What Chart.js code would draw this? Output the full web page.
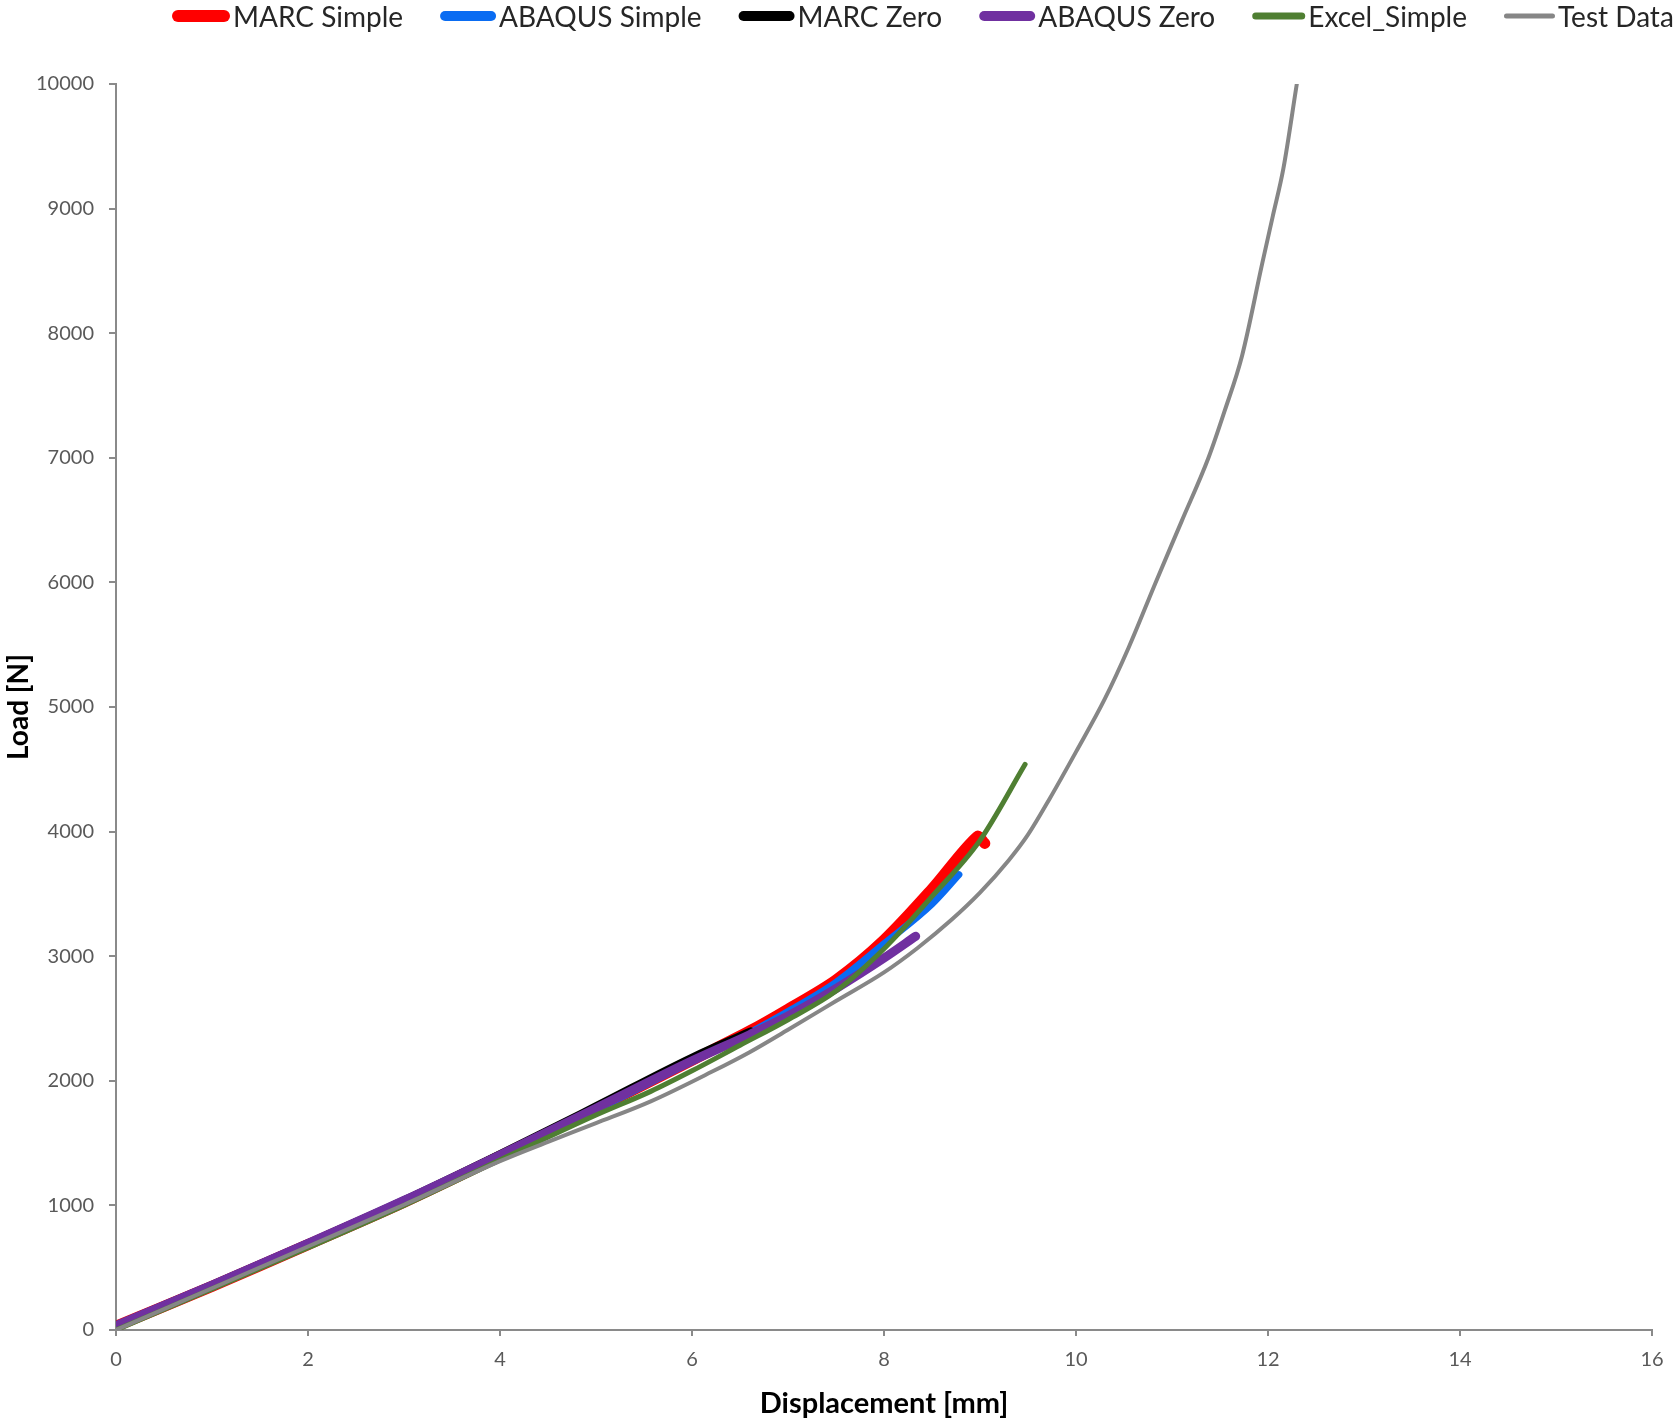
<!DOCTYPE html>
<html>
<head>
<meta charset="utf-8">
<script src="https://cdn.jsdelivr.net/npm/chart.js@4/dist/chart.umd.min.js"></script>
<style>
html,body{margin:0;padding:0;background:#fff;}
#wrap{width:1680px;height:1424px;position:relative;}
</style>
</head>
<body>
<div id="wrap"><canvas id="c" width="1680" height="1424"></canvas></div>
<script>
// ---- data (displacement [mm], load [N]) ----
const seriesNames = ['MARC Simple', 'ABAQUS Simple', 'MARC Zero', 'ABAQUS Zero', 'Excel_Simple', 'Test Data'];

const marcSimpleX = [0, 1, 2, 3, 4, 5, 6, 6.6, 7, 7.5, 8, 8.5, 8.97, 9.05];
const marcSimpleY = [30, 350, 685, 1025, 1395, 1775, 2165, 2400, 2575, 2810, 3130, 3540, 3960, 3905];

const abaqusSimpleX = [0, 1, 2, 3, 4, 5, 6, 6.6, 7, 7.5, 8, 8.5, 8.78];
const abaqusSimpleY = [20, 340, 675, 1015, 1385, 1765, 2155, 2385, 2555, 2790, 3100, 3420, 3655];

const marcZeroX = [0, 1, 2, 3, 4, 5, 6, 6.61];
const marcZeroY = [40, 365, 700, 1045, 1415, 1800, 2190, 2400];

const abaqusZeroX = [0, 1, 2, 3, 4, 5, 6, 6.6, 7, 7.5, 8, 8.33];
const abaqusZeroY = [35, 360, 695, 1040, 1405, 1780, 2160, 2370, 2520, 2740, 2985, 3160];

const excelSimpleX = [0, 1, 2, 3, 4, 5, 5.57, 6, 6.5, 7, 7.5, 8, 8.5, 9, 9.47];
const excelSimpleY = [0, 330, 660, 1000, 1365, 1725, 1915, 2080, 2285, 2490, 2720, 3060, 3480, 3930, 4540];

const testDataX = [0, 1, 2, 3, 4, 4.5, 5, 5.57, 6.2, 6.6, 7.0, 7.5, 8.0, 8.35, 8.7, 9.0, 9.3, 9.5, 9.73, 10.0, 10.3, 10.55, 10.83, 11.1, 11.38, 11.55, 11.73, 11.94, 12.05, 12.16, 12.3];
const testDataY = [0, 335, 670, 1005, 1355, 1510, 1660, 1835, 2070, 2230, 2410, 2640, 2870, 3066, 3290, 3510, 3770, 3975, 4270, 4640, 5065, 5480, 6000, 6490, 7000, 7380, 7820, 8560, 8940, 9320, 10000];

const xTicks = [0, 2, 4, 6, 8, 10, 12, 14, 16];
const yTicks = [0, 1000, 2000, 3000, 4000, 5000, 6000, 7000, 8000, 9000, 10000];

// ---- helpers ----
function pts(xs, ys) { return xs.map((x, i) => ({x: x, y: ys[i]})); }

const seriesData = [
  pts(marcSimpleX, marcSimpleY),
  pts(abaqusSimpleX, abaqusSimpleY),
  pts(marcZeroX, marcZeroY),
  pts(abaqusZeroX, abaqusZeroY),
  pts(excelSimpleX, excelSimpleY),
  pts(testDataX, testDataY)
];
const seriesColors = ['#ff0000', '#0a6cf2', '#000000', '#7030a0', '#4f7f32', '#868686'];
const seriesWidths = [11, 7, 7, 9, 5, 4];
const legendWidths = [12, 10, 10, 10, 7, 5];
const seriesInterp = ['default', 'monotone', 'monotone', 'monotone', 'monotone', 'monotone'];

const FONT = 'Lato, "Open Sans", sans-serif';

const datasets = seriesNames.map((name, i) => ({
  label: name,
  data: seriesData[i],
  borderColor: seriesColors[i],
  backgroundColor: seriesColors[i],
  borderWidth: seriesWidths[i],
  legendLineWidth: legendWidths[i],
  showLine: true,
  pointRadius: 0,
  pointHoverRadius: 0,
  fill: false,
  cubicInterpolationMode: seriesInterp[i],
  tension: 0.3,
  borderCapStyle: 'round',
  borderJoinStyle: 'round',
  order: seriesNames.length - i
}));

const topLegend = {
  id: 'topLegend',
  afterDraw(chart) {
    const ctx = chart.ctx;
    ctx.save();
    ctx.font = '28px ' + FONT;
    ctx.textBaseline = 'middle';
    ctx.textAlign = 'left';
    let x = 172;
    const yLine = 16, yText = 18, core = 46;
    chart.data.datasets.forEach(ds => {
      const lw = ds.legendLineWidth;
      ctx.strokeStyle = ds.borderColor;
      ctx.lineWidth = lw;
      ctx.lineCap = 'round';
      ctx.beginPath();
      ctx.moveTo(x + lw / 2, yLine);
      ctx.lineTo(x + lw / 2 + core, yLine);
      ctx.stroke();
      const tx = x + lw + core + 3;
      ctx.fillStyle = '#262626';
      ctx.fillText(ds.label, tx, yText);
      x = tx + ctx.measureText(ds.label).width + 37;
    });
    ctx.restore();
  }
};

new Chart(document.getElementById('c'), {
  type: 'scatter',
  data: { datasets: datasets },
  options: {
    responsive: false,
    animation: false,
    events: [],
    layout: { padding: { top: 84, right: 28, left: 0, bottom: 0 } },
    plugins: {
      legend: { display: false },
      tooltip: { enabled: false },
      title: { display: false }
    },
    scales: {
      x: {
        type: 'linear',
        min: 0, max: 16,
        afterFit(scale) { scale.height = 94; },
        afterBuildTicks(scale) { scale.ticks = xTicks.map(v => ({value: v})); },
        ticks: {
          font: { family: FONT, size: 20 },
          color: '#595959',
          padding: 12,
          maxRotation: 0
        },
        grid: { drawOnChartArea: false, drawTicks: true, tickLength: 6, color: '#8a8a8a', lineWidth: 2 },
        border: { display: true, color: '#8a8a8a', width: 2 },
        title: {
          display: true,
          text: 'Displacement [mm]',
          font: { family: FONT, size: 29, weight: 'bold' },
          color: '#000000',
          padding: { top: 0, bottom: 3 }
        }
      },
      y: {
        type: 'linear',
        min: 0, max: 10000,
        afterFit(scale) { scale.width = 116; },
        afterBuildTicks(scale) { scale.ticks = yTicks.map(v => ({value: v})); },
        ticks: {
          font: { family: FONT, size: 20 },
          color: '#595959',
          padding: 15,
          callback: v => String(v)
        },
        grid: { drawOnChartArea: false, drawTicks: true, tickLength: 7, color: '#8a8a8a', lineWidth: 2 },
        border: { display: true, color: '#8a8a8a', width: 2 },
        title: {
          display: true,
          text: 'Load [N]',
          font: { family: FONT, size: 28, weight: 'bold' },
          color: '#000000',
          padding: { top: 2, bottom: 0 }
        }
      }
    }
  },
  plugins: [topLegend]
});
</script>
</body>
</html>
